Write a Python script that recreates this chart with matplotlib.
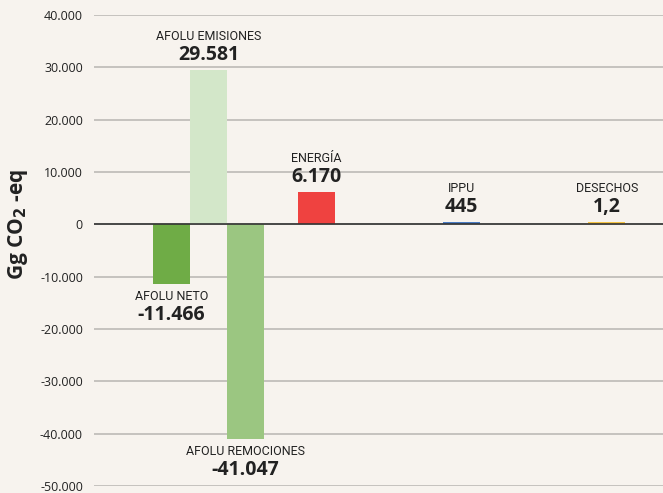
import matplotlib.pyplot as plt
import matplotlib.ticker as mticker
from matplotlib import font_manager

names = ["AFOLU NETO", "AFOLU EMISIONES", "AFOLU REMOCIONES", "ENERGÍA", "IPPU", "DESECHOS"]
values = [-11466, 29581, -41047, 6170, 445, 1.2]
value_labels = ["-11.466", "29.581", "-41.047", "6.170", "445", "1,2"]
positions = [0, 1, 2, 3.92, 7.84, 11.76]
colors = ["#6fac46", "#d3e7c9", "#9bc681", "#ef4240", "#4a7cc4", "#f5c342"]
yticks = [40000, 30000, 20000, 10000, 0, -10000, -20000, -30000, -40000, -50000]

BG = "#f7f3ee"
names_avail = {f.name for f in font_manager.fontManager.ttflist}
narrow = "Liberation Sans Narrow" if "Liberation Sans Narrow" in names_avail else "Roboto"

fig = plt.figure(figsize=(6.63, 4.93), dpi=100, facecolor=BG)
ax = fig.add_axes([94 / 663, 1 - 486 / 493, (663 - 94) / 663, (486 - 15) / 493])
ax.set_facecolor(BG)

ax.bar(positions, values, width=1.0, color=colors, zorder=3)
# make tiny bars visible as thin strips
for p, v, c in zip(positions[4:], values[4:], colors[4:]):
    ax.bar(p, 400, width=1.0, color=c, zorder=3)

ax.set_xlim(-2.09, 13.28)
ax.set_ylim(-50000, 40000)
ax.set_yticks(yticks)
ax.yaxis.set_major_formatter(mticker.FuncFormatter(lambda v, _: f"{int(v):,}".replace(",", ".")))
ax.tick_params(axis="y", length=0, pad=8, labelsize=9, labelcolor="#222222")
for lab in ax.get_yticklabels():
    lab.set_family("Open Sans")
ax.set_xticks([])
ax.grid(axis="y", color="#bdbab6", lw=1.2, zorder=0)
ax.axhline(0, color="#333333", lw=1.2, zorder=4)
for s in ax.spines.values():
    s.set_visible(False)

for p, v, n, vl in zip(positions, values, names, value_labels):
    if v >= 0:
        top = max(v, 400)
        ax.annotate(vl, (p, top), xytext=(0, 5), textcoords="offset pixels",
                    ha="center", va="bottom", fontsize=14, fontweight="bold",
                    family="Open Sans", color="#222222")
        ax.annotate(n, (p, top), xytext=(0, 27), textcoords="offset pixels",
                    ha="center", va="bottom", fontsize=9, family=narrow, color="#222222")
    else:
        ax.annotate(n, (p, v), xytext=(0, -6), textcoords="offset pixels",
                    ha="center", va="top", fontsize=9, family=narrow, color="#222222")
        ax.annotate(vl, (p, v), xytext=(0, -21), textcoords="offset pixels",
                    ha="center", va="top", fontsize=14, fontweight="bold",
                    family="Open Sans", color="#222222")

fig.text(18 / 663, 1 - 224 / 493, r"Gg CO$_\mathbf{2}$ -eq", rotation=90, ha="center", va="center",
         fontsize=15, fontweight="bold", family="Open Sans", color="#222222")

fig.savefig("out.png", dpi=100, facecolor=BG)
